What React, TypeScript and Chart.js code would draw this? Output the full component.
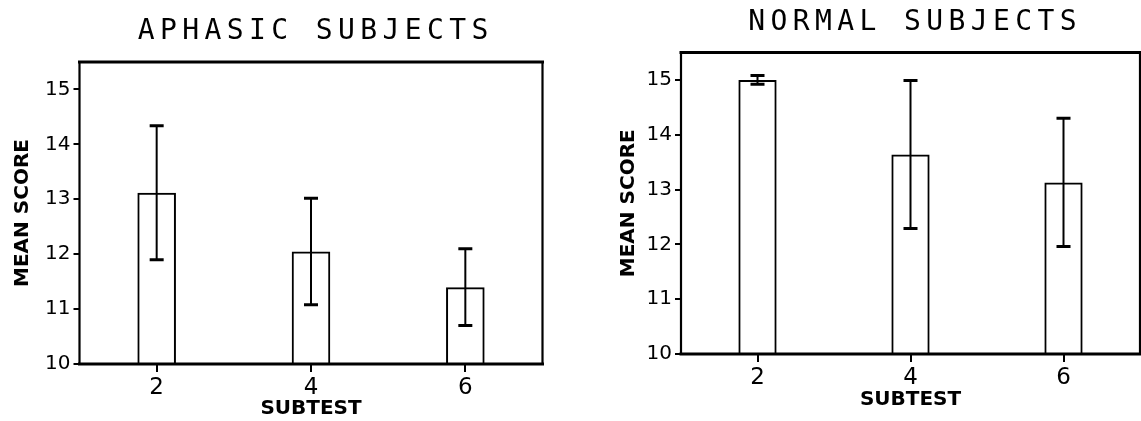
import { useEffect, useRef } from "react";
import { Chart, registerables } from "chart.js";

Chart.register(...registerables);

// ---- data ----
const subtests = [2, 4, 6];
const aphasicMeans = [13.12, 12.05, 11.4];
const aphasicErrors = [1.22, 0.97, 0.7];
const normalMeans = [15.0, 13.64, 13.13];
const normalErrors = [0.08, 1.35, 1.17];
const yTickValues = [10, 11, 12, 13, 14, 15];
const xTickValues = [2, 4, 6];
const yRange = [10, 15.5];
const xRange = [1, 7];
const aphasicTitle = "APHASIC SUBJECTS";
const normalTitle = "NORMAL SUBJECTS";
const yAxisTitle = "MEAN SCORE";
const xAxisTitle = "SUBTEST";

// ---- layout (pixels) ----
type Layout = {
  left: number;
  width: number;
  padTop: number;
  padRight: number;
  yAxisWidth: number;
  xAxisHeight: number;
  yTitlePad: number;
  xTitlePad: number;
  titleY: number;
};

const leftLayout: Layout = {
  left: 0,
  width: 570,
  padTop: 62,
  padRight: 27.5,
  yAxisWidth: 79.5,
  xAxisHeight: 57,
  yTitlePad: 10.5,
  xTitlePad: 2,
  titleY: 32,
};

const rightLayout: Layout = {
  left: 570,
  width: 571,
  padTop: 52.5,
  padRight: 1,
  yAxisWidth: 111,
  xAxisHeight: 67,
  yTitlePad: 47,
  xTitlePad: 11,
  titleY: 23,
};

const HEIGHT = 421;

function makeErrorBars(means: number[], errors: number[]) {
  return {
    id: "errorBars",
    afterDatasetsDraw(chart: any) {
      const { ctx } = chart;
      const x = chart.scales.x;
      const y = chart.scales.y;
      ctx.save();
      ctx.strokeStyle = "#000";
      subtests.forEach((s, i) => {
        const px = x.getPixelForValue(s);
        const hi = y.getPixelForValue(means[i] + errors[i]);
        const lo = y.getPixelForValue(means[i] - errors[i]);
        ctx.lineWidth = 2;
        ctx.beginPath();
        ctx.moveTo(px, hi);
        ctx.lineTo(px, lo);
        ctx.stroke();
        ctx.lineWidth = 3;
        ctx.beginPath();
        ctx.moveTo(px - 7, hi);
        ctx.lineTo(px + 7, hi);
        ctx.moveTo(px - 7, lo);
        ctx.lineTo(px + 7, lo);
        ctx.stroke();
      });
      ctx.restore();
    },
  };
}

const framePlugin = {
  id: "frame",
  afterDraw(chart: any) {
    const { ctx, chartArea: a } = chart;
    ctx.save();
    ctx.strokeStyle = "#000";
    ctx.lineCap = "square";
    ctx.lineWidth = 3;
    ctx.beginPath();
    ctx.moveTo(a.left, a.top);
    ctx.lineTo(a.right, a.top);
    ctx.moveTo(a.left, a.bottom);
    ctx.lineTo(a.right, a.bottom);
    ctx.stroke();
    ctx.lineWidth = 2.2;
    ctx.beginPath();
    ctx.moveTo(a.left, a.top);
    ctx.lineTo(a.left, a.bottom);
    ctx.moveTo(a.right, a.top);
    ctx.lineTo(a.right, a.bottom);
    ctx.stroke();
    ctx.restore();
  },
};

function makeTitle(text: string, yCenter: number) {
  return {
    id: "panelTitle",
    afterDraw(chart: any) {
      const { ctx, chartArea: a } = chart;
      ctx.save();
      ctx.font = '28px "DejaVu Sans Mono"';
      const spacing = 5.4;
      (ctx as any).letterSpacing = spacing + "px";
      ctx.fillStyle = "#000";
      ctx.textAlign = "left";
      ctx.textBaseline = "middle";
      const w = ctx.measureText(text).width - spacing;
      const cx = (a.left + a.right) / 2 + 2;
      ctx.fillText(text, cx - w / 2, yCenter);
      ctx.restore();
    },
  };
}

function Panel({
  layout,
  means,
  errors,
  title,
}: {
  layout: Layout;
  means: number[];
  errors: number[];
  title: string;
}) {
  const ref = useRef<HTMLCanvasElement>(null);
  useEffect(() => {
    const canvas = ref.current!;
    const chart = new Chart(canvas, {
      type: "bar",
      data: {
        datasets: [
          {
            data: subtests.map((s, i) => ({ x: s, y: means[i] })) as any,
            backgroundColor: "rgba(255,255,255,0)",
            borderColor: "#000",
            borderWidth: 2,
            borderSkipped: "start",
            categoryPercentage: 1,
            barPercentage: 0.25,
          },
        ],
      },
      options: {
        animation: false,
        responsive: false,
        events: [],
        layout: {
          padding: { top: layout.padTop, right: layout.padRight, left: 0, bottom: 0 },
        },
        plugins: {
          legend: { display: false },
          tooltip: { enabled: false },
          title: { display: false },
        },
        scales: {
          x: {
            type: "linear",
            min: xRange[0],
            max: xRange[1],
            offset: false,
            afterBuildTicks: (scale: any) => {
              scale.ticks = xTickValues.map((v) => ({ value: v }));
            },
            afterFit: (scale: any) => {
              scale.height = layout.xAxisHeight;
            },
            grid: {
              drawOnChartArea: false,
              drawTicks: true,
              tickLength: 8,
              color: "#000",
              lineWidth: 2,
              offset: false,
            },
            border: { display: false },
            ticks: {
              color: "#000",
              padding: 2,
              maxRotation: 0,
              font: { family: "DejaVu Sans", size: 23 },
              callback: (v: any) => String(v),
            },
            title: {
              display: true,
              text: xAxisTitle,
              color: "#000",
              font: { family: "DejaVu Sans", size: 20, weight: "bold", lineHeight: 1 },
              padding: { top: 0, bottom: layout.xTitlePad },
            },
          },
          y: {
            type: "linear",
            min: yRange[0],
            max: yRange[1],
            afterBuildTicks: (scale: any) => {
              scale.ticks = yTickValues.map((v) => ({ value: v }));
            },
            afterFit: (scale: any) => {
              scale.width = layout.yAxisWidth;
            },
            grid: {
              drawOnChartArea: false,
              drawTicks: true,
              tickLength: 6,
              color: "#000",
              lineWidth: 2,
            },
            border: { display: false },
            ticks: {
              color: "#000",
              padding: 3,
              font: { family: "DejaVu Sans", size: 20 },
              callback: (v: any) => String(v),
            },
            title: {
              display: true,
              text: yAxisTitle,
              color: "#000",
              font: { family: "DejaVu Sans", size: 20, weight: "bold", lineHeight: 1.2 },
              padding: { top: layout.yTitlePad, bottom: 0 },
            },
          },
        },
      } as any,
      plugins: [makeErrorBars(means, errors), framePlugin, makeTitle(title, layout.titleY)],
    });
    return () => chart.destroy();
  }, []);
  return (
    <div
      style={{
        position: "absolute",
        left: layout.left,
        top: 0,
        width: layout.width,
        height: HEIGHT,
      }}
    >
      <canvas
        ref={ref}
        width={layout.width}
        height={HEIGHT}
        style={{ width: layout.width, height: HEIGHT, display: "block" }}
      />
    </div>
  );
}

export default function App() {
  return (
    <div
      style={{
        position: "fixed",
        left: 0,
        top: 0,
        width: 1141,
        height: HEIGHT,
        background: "#fff",
        overflow: "hidden",
      }}
    >
      <Panel layout={leftLayout} means={aphasicMeans} errors={aphasicErrors} title={aphasicTitle} />
      <Panel layout={rightLayout} means={normalMeans} errors={normalErrors} title={normalTitle} />
    </div>
  );
}
